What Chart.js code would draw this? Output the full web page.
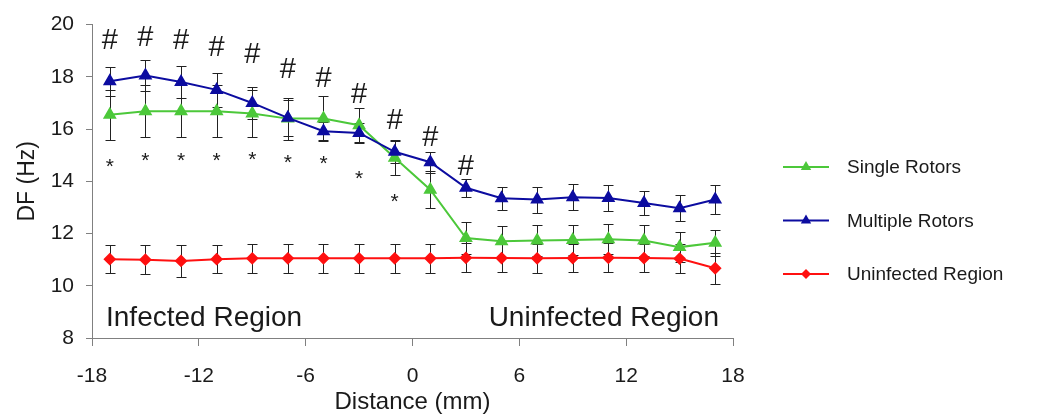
<!DOCTYPE html>
<html>
<head>
<meta charset="utf-8">
<script src="https://cdn.jsdelivr.net/npm/chart.js@4/dist/chart.umd.min.js"></script>
<style>
    html, body { margin: 0; padding: 0; background: #fff; }
    #wrap { width: 1057px; height: 417px; position: relative; }
</style>
</head>
<body>
<div id="wrap"><canvas id="dfChart" width="1057" height="417"></canvas></div>
<script>
// Distance from border (mm) for every measurement
const distance = [-17, -15, -13, -11, -9, -7, -5, -3, -1, 1, 3, 5, 7, 9, 11, 13, 15, 17];

// Dominant frequency (Hz) and error
const singleRotors = [16.55, 16.68, 16.68, 16.68, 16.6, 16.4, 16.4, 16.15, 14.9, 13.68, 11.83, 11.7, 11.73, 11.75, 11.78, 11.73, 11.48, 11.65];
const singleErr = [0.95, 1.0, 1.0, 1.0, 0.9, 0.8, 0.85, 0.65, 0.67, 0.72, 0.6, 0.6, 0.6, 0.58, 0.58, 0.58, 0.58, 0.5];

const multipleRotors = [17.83, 18.05, 17.8, 17.5, 17.0, 16.43, 15.92, 15.85, 15.13, 14.73, 13.75, 13.35, 13.3, 13.39, 13.36, 13.17, 12.97, 13.3];
const multipleErr = [0.55, 0.58, 0.6, 0.65, 0.6, 0.7, 0.35, 0.38, 0.42, 0.4, 0.35, 0.45, 0.5, 0.5, 0.5, 0.47, 0.5, 0.57];

const uninfected = [11.02, 11.0, 10.95, 11.02, 11.05, 11.05, 11.05, 11.05, 11.05, 11.05, 11.07, 11.06, 11.05, 11.06, 11.07, 11.06, 11.04, 10.67];
const uninfectedErr = [0.55, 0.55, 0.6, 0.55, 0.55, 0.55, 0.55, 0.55, 0.55, 0.55, 0.55, 0.55, 0.55, 0.55, 0.55, 0.55, 0.55, 0.6];

// Significance marks (# multiple vs uninfected, * single vs uninfected)
const hashX = [-17, -15, -13, -11, -9, -7, -5, -3, -1, 1, 3];
const hashY = [19.45, 19.56, 19.43, 19.18, 18.92, 18.32, 18.0, 17.4, 16.4, 15.75, 14.62];
const starX = [-17, -15, -13, -11, -9, -7, -5, -3, -1];
const starY = [14.69, 14.92, 14.92, 14.92, 14.98, 14.86, 14.8, 14.23, 13.36];

const xTicks = [-18, -12, -6, 0, 6, 12, 18];
const yTicks = [8, 10, 12, 14, 16, 18, 20];

const FONT = "'Liberation Sans', Arial, sans-serif";
const TEXT = '#1a1a1a';
const AXIS = '#808080';

function points(values) {
    return distance.map((x, i) => ({ x: x, y: values[i] }));
}

const seriesErr = [singleErr, multipleErr, uninfectedErr];

// Error bars behind the markers
const errorBars = {
    id: 'errorBars',
    beforeDatasetsDraw(chart) {
        const ctx = chart.ctx;
        const xs = chart.scales.x, ys = chart.scales.y;
        ctx.save();
        ctx.strokeStyle = '#222';
        ctx.lineWidth = 1;
        chart.data.datasets.forEach((ds, d) => {
            ds.data.forEach((p, i) => {
                const e = seriesErr[d][i];
                const px = Math.round(xs.getPixelForValue(p.x)) + 0.5;
                const top = Math.round(ys.getPixelForValue(p.y + e)) + 0.5;
                const bot = Math.round(ys.getPixelForValue(p.y - e)) + 0.5;
                ctx.beginPath();
                ctx.moveTo(px, top); ctx.lineTo(px, bot);
                ctx.moveTo(px - 5, top); ctx.lineTo(px + 5, top);
                ctx.moveTo(px - 5, bot); ctx.lineTo(px + 5, bot);
                ctx.stroke();
            });
        });
        ctx.restore();
    }
};

function drawCentered(ctx, text, x, y) {
    const m = ctx.measureText(text);
    const h = m.actualBoundingBoxAscent + m.actualBoundingBoxDescent;
    ctx.fillText(text, x, y + m.actualBoundingBoxAscent - h / 2);
}

function drawMarker(ctx, style, x, y, r, color) {
    ctx.fillStyle = color;
    ctx.beginPath();
    if (style === 'triangle') {
        ctx.moveTo(x, y - r);
        ctx.lineTo(x + r * 0.866, y + r * 0.5);
        ctx.lineTo(x - r * 0.866, y + r * 0.5);
    } else {
        ctx.moveTo(x, y - r);
        ctx.lineTo(x + r, y);
        ctx.lineTo(x, y + r);
        ctx.lineTo(x - r, y);
    }
    ctx.closePath();
    ctx.fill();
}

// Significance marks, region labels and legend
const extras = {
    id: 'extras',
    afterDatasetsDraw(chart) {
        const ctx = chart.ctx;
        const xs = chart.scales.x, ys = chart.scales.y;
        ctx.save();
        ctx.fillStyle = TEXT;
        ctx.textAlign = 'center';
        ctx.textBaseline = 'alphabetic';

        ctx.font = '29px ' + FONT;
        hashX.forEach((x, i) => drawCentered(ctx, '#', xs.getPixelForValue(x), ys.getPixelForValue(hashY[i])));
        ctx.font = '21px ' + FONT;
        starX.forEach((x, i) => drawCentered(ctx, '*', xs.getPixelForValue(x), ys.getPixelForValue(starY[i])));

        ctx.font = '28px ' + FONT;
        ctx.textAlign = 'left';
        ctx.fillText('Infected Region', chart.chartArea.left + 14, 326);
        ctx.textAlign = 'right';
        ctx.fillText('Uninfected Region', chart.chartArea.right - 14, 326);

        // legend
        ctx.font = '19px ' + FONT;
        ctx.textAlign = 'left';
        ctx.textBaseline = 'middle';
        chart.data.datasets.forEach((ds, d) => {
            const y = 167 + d * 53.5;
            ctx.strokeStyle = ds.borderColor;
            ctx.lineWidth = 2;
            ctx.beginPath();
            ctx.moveTo(783, y); ctx.lineTo(829, y);
            ctx.stroke();
            drawMarker(ctx, ds.pointStyle, 806, y, ds.pointRadius, ds.borderColor);
            ctx.fillStyle = TEXT;
            ctx.fillText(ds.label, 847, y + 1);
        });
        ctx.restore();
    }
};

new Chart(document.getElementById('dfChart'), {
    type: 'line',
    data: {
        datasets: [
            {
                label: 'Single Rotors',
                data: points(singleRotors),
                borderColor: '#4cc83a',
                backgroundColor: '#4cc83a',
                pointStyle: 'triangle',
                pointRadius: 6,
                borderWidth: 2,
                order: 2
            },
            {
                label: 'Multiple Rotors',
                data: points(multipleRotors),
                borderColor: '#0c0ca0',
                backgroundColor: '#0c0ca0',
                pointStyle: 'triangle',
                pointRadius: 6,
                borderWidth: 2,
                order: 1
            },
            {
                label: 'Uninfected Region',
                data: points(uninfected),
                borderColor: '#ff1010',
                backgroundColor: '#ff1010',
                pointStyle: 'rectRot',
                pointRadius: 5,
                borderWidth: 2,
                order: 3
            }
        ]
    },
    options: {
        responsive: false,
        animation: false,
        layout: { padding: { top: 18, right: 324, left: 0, bottom: 0 } },
        elements: {
            line: { tension: 0 },
            point: { borderWidth: 0, hoverRadius: 6 }
        },
        plugins: {
            legend: { display: false },
            tooltip: { enabled: false }
        },
        scales: {
            x: {
                type: 'linear',
                min: -18,
                max: 18,
                afterBuildTicks: s => { s.ticks = xTicks.map(v => ({ value: v })); },
                afterFit: s => { s.height = 79; },
                grid: { drawOnChartArea: false, drawTicks: true, tickLength: 8, color: AXIS },
                border: { display: true, color: AXIS, width: 1 },
                ticks: { color: TEXT, font: { family: FONT, size: 21 }, padding: 18 },
                title: {
                    display: true,
                    text: 'Distance (mm)',
                    color: TEXT,
                    font: { family: FONT, size: 24 },
                    padding: { top: 0, bottom: 0 }
                }
            },
            y: {
                min: 8,
                max: 20,
                afterBuildTicks: s => { s.ticks = yTicks.map(v => ({ value: v })); },
                afterFit: s => { s.width = 92; },
                grid: { drawOnChartArea: false, drawTicks: true, tickLength: 6, color: AXIS },
                border: { display: true, color: AXIS, width: 1 },
                ticks: { color: TEXT, font: { family: FONT, size: 21 }, padding: 12 },
                title: {
                    display: true,
                    text: 'DF (Hz)',
                    color: TEXT,
                    font: { family: FONT, size: 23 },
                    padding: { top: 14, bottom: 0 }
                }
            }
        }
    },
    plugins: [errorBars, extras]
});
</script>
</body>
</html>
